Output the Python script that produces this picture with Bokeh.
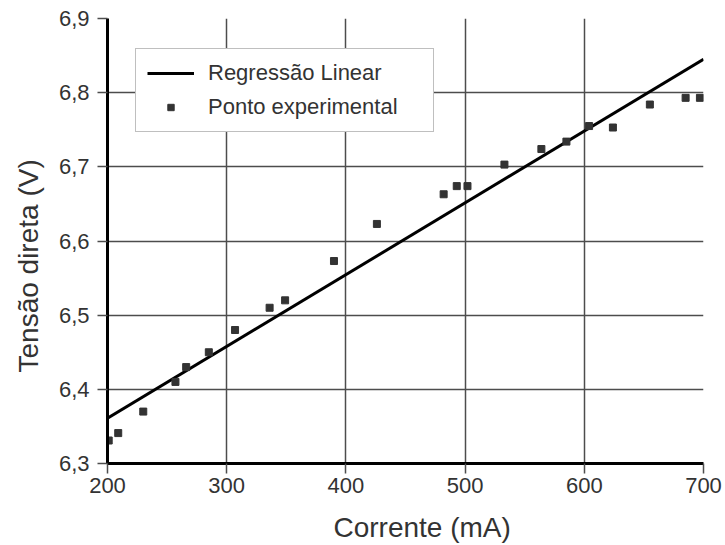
from bokeh.plotting import figure
from bokeh.models import Legend, LegendItem, FixedTicker, CustomJSTickFormatter, Title
from bokeh.embed import file_html
from bokeh.resources import INLINE

corrente = [201, 209, 230, 257, 266, 285, 307, 336, 349, 390, 426, 482, 493, 502,
            533, 564, 585, 604, 624, 655, 685, 697]
tensao = [6.331, 6.341, 6.370, 6.410, 6.430, 6.450, 6.480, 6.510, 6.520, 6.573, 6.623,
          6.663, 6.674, 6.674, 6.703, 6.724, 6.734, 6.755, 6.753, 6.784, 6.793, 6.793]
reg_x = [200, 700]
reg_y = [6.361, 6.845]
x_ticks = [200, 300, 400, 500, 600, 700]
y_ticks = [6.3, 6.4, 6.5, 6.6, 6.7, 6.8, 6.9]

FONT = "Liberation Sans"
TXT = "#333333"
GRID = "#4d4d4d"

p = figure(width=725, height=545, x_range=(200, 700), y_range=(6.3, 6.9),
           output_backend="svg", toolbar_location=None,
           min_border_left=107, min_border_right=22, min_border_top=18,
           min_border_bottom=82)
p.outline_line_color = None
p.background_fill_color = "white"
p.border_fill_color = "white"

line_r = p.line(reg_x, reg_y, line_color="black", line_width=3)
sc_r = p.scatter(corrente, tensao, marker="square", size=7, fill_color="#333333",
                 line_color="#333333")

for ax, ticks in ((p.xaxis[0], x_ticks), (p.yaxis[0], y_ticks)):
    ax.ticker = FixedTicker(ticks=ticks)
    ax.axis_line_width = 3
    ax.axis_line_color = "black"
    ax.major_tick_line_color = GRID
    ax.major_tick_line_width = 1.5
    ax.major_tick_out = 10
    ax.major_tick_in = 0
    ax.minor_tick_line_color = None
    ax.major_label_text_font = FONT
    ax.major_label_text_font_size = "22px"
    ax.major_label_text_color = TXT

p.xaxis.major_label_standoff = 4
p.yaxis.major_label_standoff = 8
p.yaxis.formatter = CustomJSTickFormatter(code="return tick.toFixed(1).replace('.', ',');")

p.xgrid.ticker = FixedTicker(ticks=x_ticks)
p.ygrid.ticker = FixedTicker(ticks=y_ticks)
for g in (p.xgrid[0], p.ygrid[0]):
    g.grid_line_color = GRID
    g.grid_line_width = 1.5

ytitle = Title(text="Tensão direta (V)", align="left", offset=91, standoff=22,
               vertical_align="middle", text_font=FONT, text_font_size="28px",
               text_color=TXT, text_font_style="normal")
p.add_layout(ytitle, "left")
xtitle = Title(text="Corrente (mA)", align="left", offset=226, standoff=0,
               padding=(0, 0, 16, 0),
               vertical_align="top", text_font=FONT, text_font_size="28px",
               text_color=TXT, text_font_style="normal")
p.add_layout(xtitle, "below")

legend = Legend(items=[LegendItem(label="Regressão Linear", renderers=[line_r]),
                       LegendItem(label="Ponto experimental", renderers=[sc_r])],
                location=(28, 331))
legend.border_line_color = "#808080"
legend.border_line_width = 1
legend.background_fill_color = "white"
legend.background_fill_alpha = 1
legend.margin = 0
legend.padding = 11
legend.spacing = 8
legend.glyph_width = 47
legend.glyph_height = 16
legend.label_height = 22
legend.label_standoff = 14
legend.label_width = 214
legend.label_text_font = FONT
legend.label_text_font_size = "22px"
legend.label_text_color = TXT
p.add_layout(legend)

open("out.html", "w").write(file_html(p, INLINE))
